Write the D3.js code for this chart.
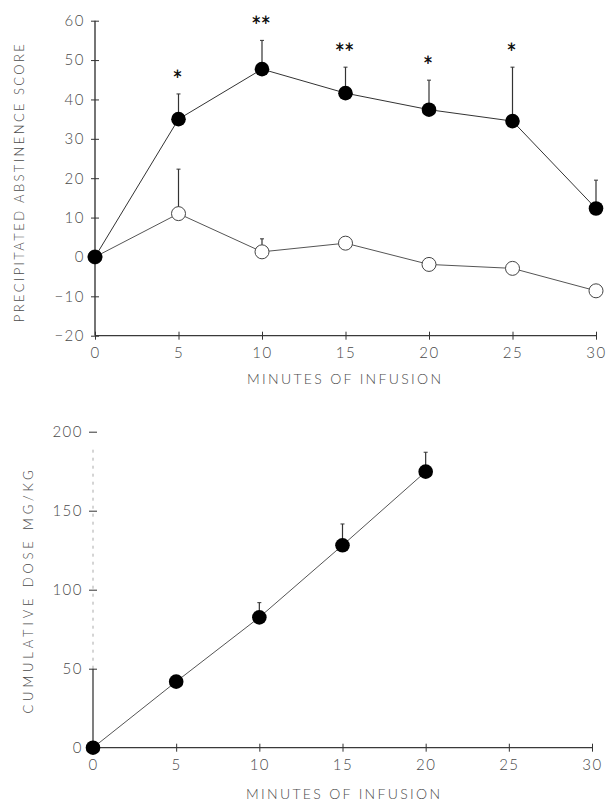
<!DOCTYPE html>
<html>
<head>
<meta charset="utf-8">
<script src="https://cdn.jsdelivr.net/npm/d3@7"></script>
<style>
  html, body { margin: 0; padding: 0; background: #fff; }
  svg { display: block; }
  text { font-family: Lato, "Open Sans", sans-serif; font-weight: 300; fill: #4a4a4a; }
</style>
</head>
<body>
<svg id="chart" width="606" height="805"></svg>
<script>
// ---- Data ----
const minutes = [0, 5, 10, 15, 20, 25, 30];
const xTicks = [0, 5, 10, 15, 20, 25, 30];

// Top panel: precipitated abstinence score
const filledScore = [0, 35.0, 47.7, 41.6, 37.4, 34.5, 12.3];
const filledErrTop = [null, 41.4, 55.0, 48.2, 44.9, 48.2, 19.5];
const sigLabels = ["", "*", "**", "**", "*", "*", ""];
const openScore = [0, 11.0, 1.3, 3.5, -1.9, -2.9, -8.6];
const openErrTop = [null, 22.3, 4.6, null, null, null, null];
const topYTicks = [-20, -10, 0, 10, 20, 30, 40, 50, 60];

// Bottom panel: cumulative dose mg/kg
const doseMinutes = [0, 5, 10, 15, 20];
const cumulativeDose = [0, 41.8, 82.5, 128.1, 174.7];
const doseErrTop = [null, null, 91.8, 141.6, 187.0];
const bottomYTicks = [0, 50, 100, 150, 200];

const topYTitle = "PRECIPITATED ABSTINENCE SCORE";
const bottomYTitle = "CUMULATIVE DOSE MG/KG";
const xTitle = "MINUTES OF INFUSION";

// ---- Drawing ----
const svg = d3.select("#chart");
const lineColor = "#333";

function crossTicks(g, orient) {
  g.select(".domain").remove();
  if (orient === "left") g.selectAll(".tick line").attr("x1", -4).attr("x2", 4).attr("stroke", lineColor);
  else g.selectAll(".tick line").attr("y1", -4).attr("y2", 4).attr("stroke", lineColor);
  g.selectAll(".tick text").attr("font-family", null).attr("font-size", 15).attr("letter-spacing", 1.5);
}

// ===== Top panel =====
const xT = d3.scaleLinear().domain([0, 30]).range([95, 596]);
const yT = d3.scaleLinear().domain([-20, 60]).range([335.7, 20.7]);

const gTop = svg.append("g");
gTop.append("line").attr("x1", xT(0)).attr("x2", xT(0)).attr("y1", yT(-20)).attr("y2", yT(60))
  .attr("stroke", "#3a3a3a").attr("stroke-width", 1.4);
gTop.append("line").attr("x1", xT(0)).attr("x2", xT(30)).attr("y1", yT(-20)).attr("y2", yT(-20))
  .attr("stroke", "#3a3a3a").attr("stroke-width", 1.2);

const yAxT = gTop.append("g").attr("transform", `translate(${xT(0)},0)`)
  .call(d3.axisLeft(yT).tickValues(topYTicks).tickSize(0).tickPadding(10).tickFormat(d => d < 0 ? "\u2212" + Math.abs(d) : d));
crossTicks(yAxT, "left");
const xAxT = gTop.append("g").attr("transform", `translate(0,${yT(-20)})`)
  .call(d3.axisBottom(xT).tickValues(xTicks).tickSize(0).tickPadding(12));
crossTicks(xAxT, "bottom");

gTop.append("text").attr("transform", `translate(21,${(yT(-20)+yT(60))/2 + 5}) rotate(-90)`)
  .attr("text-anchor", "middle").attr("dominant-baseline", "middle")
  .attr("font-size", 13).attr("textLength", 278).attr("lengthAdjust", "spacing").text(topYTitle);
gTop.append("text").attr("x", 344).attr("y", 381).attr("text-anchor", "middle").attr("dominant-baseline", "middle")
  .attr("font-size", 14).attr("textLength", 194).attr("lengthAdjust", "spacing").text(xTitle);

const line = (xs, ys) => d3.line().x((d, i) => xs(minutes[i])).y(d => ys(d));

gTop.append("path").datum(openScore).attr("d", line(xT, yT)).attr("fill", "none").attr("stroke", "#555").attr("stroke-width", 1);
gTop.append("path").datum(filledScore).attr("d", line(xT, yT)).attr("fill", "none").attr("stroke", lineColor).attr("stroke-width", 1);

function errBars(g, xs, ys, xsVals, means, tops) {
  const data = tops.map((t, i) => ({x: xsVals[i], m: means[i], t})).filter(d => d.t !== null);
  g.selectAll(null).data(data).enter().append("line")
    .attr("x1", d => xs(d.x)).attr("x2", d => xs(d.x)).attr("y1", d => ys(d.m)).attr("y2", d => ys(d.t))
    .attr("stroke", lineColor).attr("stroke-width", 1.2);
  g.selectAll(null).data(data).enter().append("line")
    .attr("x1", d => xs(d.x) - 2).attr("x2", d => xs(d.x) + 2).attr("y1", d => ys(d.t)).attr("y2", d => ys(d.t))
    .attr("stroke", lineColor).attr("stroke-width", 1);
}
errBars(gTop, xT, yT, minutes, filledScore, filledErrTop);
errBars(gTop, xT, yT, minutes, openScore, openErrTop);

gTop.selectAll(null).data(openScore).enter().append("circle")
  .attr("cx", (d, i) => xT(minutes[i])).attr("cy", d => yT(d)).attr("r", 7)
  .attr("fill", "#fff").attr("stroke", "#444").attr("stroke-width", 1);
gTop.selectAll(null).data(filledScore).enter().append("circle")
  .attr("cx", (d, i) => xT(minutes[i])).attr("cy", d => yT(d)).attr("r", 7.3)
  .attr("fill", "#000");

gTop.selectAll(null).data(sigLabels.map((s, i) => ({s, i})).filter(d => d.s)).enter().append("text")
  .attr("x", d => xT(minutes[d.i])).attr("y", d => yT(filledErrTop[d.i]) - 12)
  .attr("text-anchor", "middle")
  .attr("font-size", 15).attr("font-weight", 700).attr("letter-spacing", 2)
  .style("font-family", "'DejaVu Sans', sans-serif").style("fill", "#111")
  .style("stroke", "#111").style("stroke-width", 0.9)
  .text(d => d.s);

// ===== Bottom panel =====
const xB = d3.scaleLinear().domain([0, 30]).range([93, 592]);
const yB = d3.scaleLinear().domain([0, 200]).range([747.7, 431.7]);
const gB = svg.append("g");

gB.append("line").attr("x1", xB(0)).attr("x2", xB(0)).attr("y1", yB(0)).attr("y2", yB(50))
  .attr("stroke", "#3a3a3a").attr("stroke-width", 1.3);
gB.append("line").attr("x1", xB(0)).attr("x2", xB(0)).attr("y1", yB(50)).attr("y2", yB(190))
  .attr("stroke", "#aaa").attr("stroke-width", 1).attr("stroke-dasharray", "3,5");
gB.append("line").attr("x1", xB(0)).attr("x2", xB(30)).attr("y1", yB(0)).attr("y2", yB(0))
  .attr("stroke", "#3a3a3a").attr("stroke-width", 1.2);

const yAxB = gB.append("g").attr("transform", `translate(${xB(0)},0)`)
  .call(d3.axisLeft(yB).tickValues(bottomYTicks).tickSize(0).tickPadding(10));
crossTicks(yAxB, "left");
yAxB.selectAll(".tick").filter(d => d === 0).select("line").remove();
const xAxB = gB.append("g").attr("transform", `translate(0,${yB(0)})`)
  .call(d3.axisBottom(xB).tickValues(xTicks).tickSize(0).tickPadding(12));
crossTicks(xAxB, "bottom");

gB.append("text").attr("transform", `translate(30,592) rotate(-90)`)
  .attr("text-anchor", "middle").attr("dominant-baseline", "middle")
  .attr("font-size", 13).attr("textLength", 243).attr("lengthAdjust", "spacing").text(bottomYTitle);
gB.append("text").attr("x", 343).attr("y", 796).attr("text-anchor", "middle").attr("dominant-baseline", "middle")
  .attr("font-size", 14).attr("textLength", 194).attr("lengthAdjust", "spacing").text(xTitle);

gB.append("path").datum(cumulativeDose)
  .attr("d", d3.line().x((d, i) => xB(doseMinutes[i])).y(d => yB(d)))
  .attr("fill", "none").attr("stroke", "#555").attr("stroke-width", 1);
errBars(gB, xB, yB, doseMinutes, cumulativeDose, doseErrTop);
gB.selectAll(null).data(cumulativeDose).enter().append("circle")
  .attr("cx", (d, i) => xB(doseMinutes[i])).attr("cy", d => yB(d)).attr("r", 7.3)
  .attr("fill", "#000");
</script>
</body>
</html>
